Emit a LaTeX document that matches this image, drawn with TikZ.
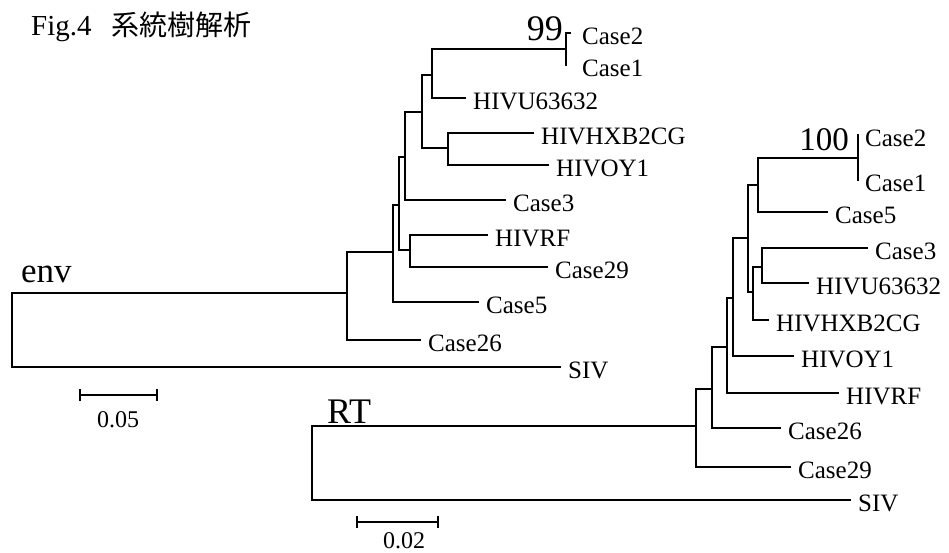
\documentclass[tikz,border=0pt]{standalone}
\usepackage{fontspec}
\setmainfont{Liberation Serif}
\newfontfamily\cjk{Noto Sans CJK JP}
\begin{document}
\begin{tikzpicture}[x=1pt,y=-1pt,
  br/.style={line width=1.5pt, line cap=rect},
  lab/.style={anchor=west, inner xsep=8pt, inner ysep=0pt, text height=22pt, text depth=0pt, font=\fontsize{25}{25}\selectfont},
  boot/.style={anchor=base east, inner sep=0pt},
  big/.style={anchor=base west, inner sep=0pt}]
\useasboundingbox (0,0) rectangle (949,552);
% title
\node[big, font=\fontsize{29}{29}\selectfont] (fig) at (31,35) {Fig.4\hspace{20pt}{\cjk\fontsize{28}{28}\selectfont 系統樹解析}};
% ---------------- env tree ----------------
\node[big, font=\fontsize{35}{35}\selectfont] (envlab) at (21,282) {env};
\coordinate (r1) at (12,330);
\coordinate (a) at (347,293);
\coordinate (b) at (393,252);
\coordinate (c) at (399,205);
\coordinate (d) at (405,157);
\coordinate (e) at (410,250);
\coordinate (f) at (422,112);
\coordinate (g) at (432,75);
\coordinate (h) at (448,148);
\coordinate (i) at (566,49);
\node[lab] (eSIV) at (560,367) {SIV};
\node[lab] (eC26) at (420,340) {Case26};
\node[lab] (eC5) at (478,302) {Case5};
\node[lab] (eRF) at (487,235) {HIVRF};
\node[lab] (eC29) at (547,267) {Case29};
\node[lab] (eC3) at (505,200) {Case3};
\node[lab] (eU) at (465,98) {HIVU63632};
\node[lab] (eHX) at (533,133) {HIVHXB2CG};
\node[lab] (eOY) at (548,165) {HIVOY1};
\node[lab, inner xsep=12pt] (eC2) at (570,33) {Case2};
\node[lab, inner xsep=16pt] (eC1) at (566,65) {Case1};
\node[boot, font=\fontsize{36}{36}\selectfont] (b99) at (563,40) {99};
\draw[br] (r1) |- (a);
\draw[br] (r1) |- (eSIV.west);
\draw[br] (a) |- (b);
\draw[br] (a) |- (eC26.west);
\draw[br] (b) |- (c);
\draw[br] (b) |- (eC5.west);
\draw[br] (c) |- (d);
\draw[br] (c) |- (e);
\draw[br] (e) |- (eRF.west);
\draw[br] (e) |- (eC29.west);
\draw[br] (d) |- (f);
\draw[br] (d) |- (eC3.west);
\draw[br] (f) |- (g);
\draw[br] (f) |- (h);
\draw[br] (g) |- (i);
\draw[br] (g) |- (eU.west);
\draw[br] (h) |- (eHX.west);
\draw[br] (h) |- (eOY.west);
\draw[br] (i) |- (eC2.west);
\draw[br] (i) |- (eC1.west);
% scale bar env
\coordinate (s1a) at (80,395);
\coordinate (s1b) at (157,395);
\draw[br] (s1a) -- (s1b);
\draw[br] ([yshift=-5pt]s1a) -- ([yshift=5pt]s1a);
\draw[br] ([yshift=-5pt]s1b) -- ([yshift=5pt]s1b);
\node[inner sep=0pt, anchor=base, font=\fontsize{24}{24}\selectfont] (s1l) at (118,427) {0.05};
% ---------------- RT tree ----------------
\node[big, font=\fontsize{36}{36}\selectfont] (rtlab) at (327,423) {RT};
\coordinate (r2) at (312,463);
\coordinate (A) at (696,426);
\coordinate (B) at (712,389);
\coordinate (C) at (727,347);
\coordinate (D) at (733,298);
\coordinate (E) at (748,238);
\coordinate (F) at (758,185);
\coordinate (G) at (753,292);
\coordinate (H) at (858,158);
\coordinate (I) at (762,267);
\node[lab] (rSIV) at (850,500) {SIV};
\node[lab] (rC29) at (790,467) {Case29};
\node[lab] (rC26) at (780,428) {Case26};
\node[lab] (rRF) at (838,393) {HIVRF};
\node[lab] (rOY) at (793,356) {HIVOY1};
\node[lab] (rC5) at (827,212) {Case5};
\node[lab] (rHX) at (768,320) {HIVHXB2CG};
\node[lab] (rC3) at (867,248) {Case3};
\node[lab] (rU) at (808,283) {HIVU63632};
\node[lab, inner xsep=7pt] (rC2) at (858,135) {Case2};
\node[lab, inner xsep=7pt] (rC1) at (858,180) {Case1};
\node[boot, font=\fontsize{33}{33}\selectfont] (b100) at (849,150) {100};
\draw[br] (r2) |- (A);
\draw[br] (r2) |- (rSIV.west);
\draw[br] (A) |- (B);
\draw[br] (A) |- (rC29.west);
\draw[br] (B) |- (C);
\draw[br] (B) |- (rC26.west);
\draw[br] (C) |- (D);
\draw[br] (C) |- (rRF.west);
\draw[br] (D) |- (E);
\draw[br] (D) |- (rOY.west);
\draw[br] (E) |- (F);
\draw[br] (E) |- (G);
\draw[br] (F) |- (H);
\draw[br] (F) |- (rC5.west);
\draw[br] (G) |- (I);
\draw[br] (G) |- (rHX.west);
\draw[br] (I) |- (rC3.west);
\draw[br] (I) |- (rU.west);
\draw[br] (H) |- (rC2.west);
\draw[br] (H) |- (rC1.west);
% scale bar RT
\coordinate (s2a) at (357,522);
\coordinate (s2b) at (438,522);
\draw[br] (s2a) -- (s2b);
\draw[br] ([yshift=-5pt]s2a) -- ([yshift=5pt]s2a);
\draw[br] ([yshift=-5pt]s2b) -- ([yshift=5pt]s2b);
\node[inner sep=0pt, anchor=base, font=\fontsize{24}{24}\selectfont] (s2l) at (404,548) {0.02};
\end{tikzpicture}
\end{document}
